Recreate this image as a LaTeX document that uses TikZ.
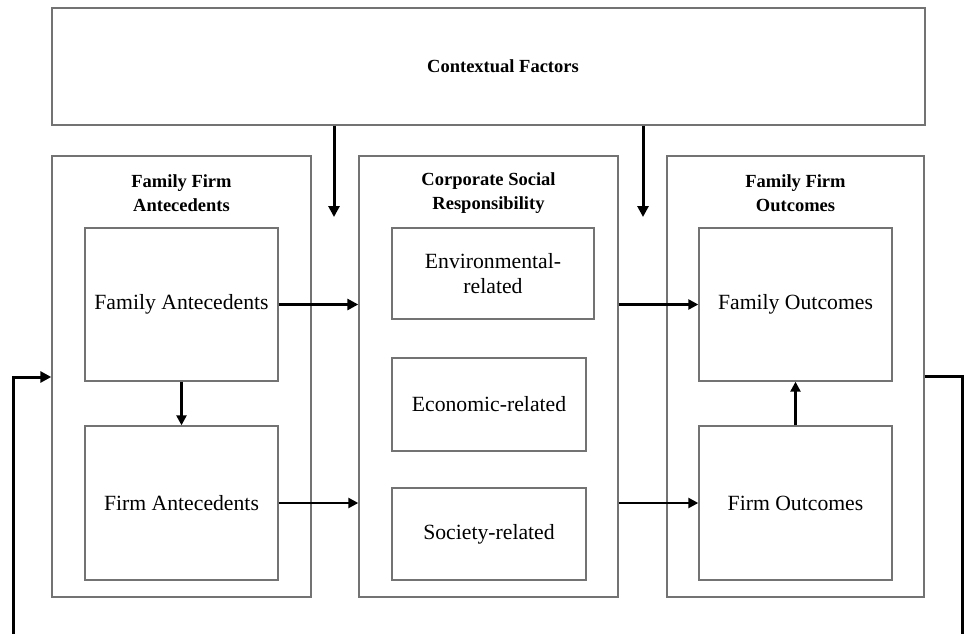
\documentclass[tikz,border=0pt]{standalone}
\usepackage{fontspec}
\setmainfont{Liberation Serif}
\usetikzlibrary{arrows.meta}
\begin{document}
\begin{tikzpicture}[x=1pt,y=-1pt,
  box/.style={draw=gray!90!black,line width=1.4pt,inner sep=0pt,align=center,
    font=\fontsize{21.7}{25}\selectfont},
  ttl/.style={align=center,inner sep=0pt,font=\fontsize{18.5}{24}\selectfont\bfseries},
  arr/.style={line width=3pt,-{Triangle[length=11pt,width=11pt]}},
  arrt/.style={line width=2.4pt,-{Triangle[length=10pt,width=10pt]}},
  fb/.style={line width=3pt}]
\useasboundingbox (0,0) rectangle (964,634);
% outer boxes
\node[box,minimum width=873,minimum height=117] (ctx) at (488.5,66.5) {};
\node[ttl] (ctxt) at (503,66) {Contextual Factors};
\node[box,minimum width=259,minimum height=441] (Lout) at (181.5,376.5) {};
\node[box,minimum width=259,minimum height=441] (Mout) at (488.5,376.5) {};
\node[box,minimum width=257,minimum height=441] (Rout) at (795.5,376.5) {};
\node[ttl] (Lt) at (181.5,193) {Family Firm\\Antecedents};
\node[ttl] (Mt) at (488.5,193) {Corporate Social\\Responsibility};
\node[ttl] (Rt) at (795.5,193) {Family Firm\\Outcomes};
% inner boxes
\node[box,minimum width=193,minimum height=153] (famA) at (181.5,304.5) {Family Antecedents};
\node[box,minimum width=193,minimum height=154] (firmA) at (181.5,503) {Firm Antecedents};
\node[box,minimum width=202,minimum height=91] (env) at (493,273.5) {Environmental-\\related};
\node[box,minimum width=194,minimum height=93] (eco) at (489,404.5) {Economic-related};
\node[box,minimum width=194,minimum height=92] (soc) at (489,534) {Society-related};
\node[box,minimum width=193,minimum height=153] (famO) at (795.5,304.5) {Family Outcomes};
\node[box,minimum width=193,minimum height=154] (firmO) at (795.5,503) {Firm Outcomes};
% coordinates
\coordinate (c1) at (334,217);
\coordinate (c2) at (643,217);
\coordinate (fr) at (962,376);
\coordinate (frb) at (962,640);
\coordinate (fl) at (13,377);
\coordinate (flb) at (13,640);
% arrows
\draw[arr] (ctx.south -| c1) -- (c1);
\draw[arr] (ctx.south -| c2) -- (c2);
\draw[arr] (famA.east) -- (famA.east -| Mout.west);
\draw[arrt] (firmA.east) -- (firmA.east -| Mout.west);
\draw[arrt] (Mout.east |- famO.west) -- (famO.west);
\draw[arrt] (Mout.east |- firmO.west) -- (firmO.west);
\draw[arrt] (famA.south) -- (firmA.north);
\draw[arrt] (firmO.north) -- (famO.south);
\draw[fb] (Rout.east |- fr) -- (fr) -- (frb);
\draw[fb,-{Triangle[length=11pt,width=11pt]}] (flb) -- (fl) -- (Lout.west |- fl);
\end{tikzpicture}
\end{document}
